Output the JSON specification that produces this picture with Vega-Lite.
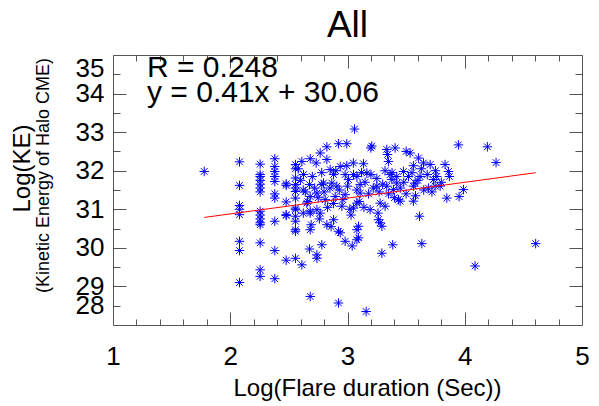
{
"$schema": "https://vega.github.io/schema/vega-lite/v6.json",
"width": 469, "height": 270,
"autosize": "none",
"padding": {"left": 113, "top": 55, "right": 17, "bottom": 81},
"config": {
  "view": {"stroke": "#555", "strokeWidth": 1},
  "font": "Liberation Sans",
  "axis": {"domain": false, "grid": false, "labelFont": "Liberation Sans", "titleFont": "Liberation Sans", "titleFontWeight": "normal", "tickColor": "#555", "labelColor": "black", "titleColor": "black", "labelOverlap": false}
},
"title": {"text": "All", "fontSize": 37, "fontWeight": "normal", "font": "Liberation Sans", "anchor": "middle", "color": "black", "offset": 8},
"datasets": {
 "pts": [
  {"x":1.778,"y":31.98},
  {"x":2.079,"y":32.23},{"x":2.079,"y":31.62},{"x":2.079,"y":31.10},{"x":2.079,"y":31.00},{"x":2.079,"y":30.86},{"x":2.079,"y":30.17},{"x":2.079,"y":29.93},{"x":2.079,"y":29.10},
  {"x":2.255,"y":32.17},{"x":2.255,"y":31.90},{"x":2.255,"y":31.85},{"x":2.255,"y":31.75},{"x":2.255,"y":31.65},{"x":2.255,"y":31.55},{"x":2.255,"y":31.45},{"x":2.255,"y":30.95},{"x":2.255,"y":30.85},{"x":2.255,"y":30.75},{"x":2.255,"y":30.65},{"x":2.255,"y":30.60},{"x":2.255,"y":30.13},{"x":2.255,"y":29.43},{"x":2.255,"y":29.26},
  {"x":2.380,"y":32.31},{"x":2.380,"y":32.11},{"x":2.380,"y":31.98},{"x":2.380,"y":31.85},{"x":2.380,"y":31.72},{"x":2.380,"y":31.40},{"x":2.380,"y":31.29},{"x":2.380,"y":30.69},{"x":2.380,"y":29.93},{"x":2.380,"y":29.20},
  {"x":2.477,"y":31.66},{"x":2.477,"y":31.62},{"x":2.477,"y":31.19},{"x":2.477,"y":30.86},{"x":2.477,"y":30.84},{"x":2.477,"y":29.68},
  {"x":2.556,"y":32.16},{"x":2.556,"y":31.81},{"x":2.556,"y":31.55},{"x":2.556,"y":31.29},{"x":2.556,"y":30.99},{"x":2.556,"y":30.82},{"x":2.556,"y":30.69},{"x":2.556,"y":30.43},{"x":2.556,"y":29.73},{"x":2.556,"y":32.05},{"x":2.556,"y":31.64},{"x":2.556,"y":31.46},{"x":2.556,"y":31.03},{"x":2.556,"y":30.47},
  {"x":2.611,"y":32.24},{"x":2.682,"y":32.31},{"x":2.625,"y":31.90},{"x":2.676,"y":31.64},{"x":2.682,"y":31.33},{"x":2.653,"y":31.16},{"x":2.682,"y":30.95},{"x":2.682,"y":30.90},{"x":2.682,"y":30.47},{"x":2.676,"y":29.97},{"x":2.611,"y":29.56},{"x":2.682,"y":28.74},{"x":2.623,"y":31.50},{"x":2.623,"y":30.90},
  {"x":2.733,"y":32.20},{"x":2.767,"y":32.46},{"x":2.824,"y":32.62},{"x":2.781,"y":31.64},{"x":2.739,"y":31.42},{"x":2.795,"y":31.68},{"x":2.739,"y":30.99},{"x":2.767,"y":30.90},{"x":2.824,"y":30.60},{"x":2.739,"y":29.82},{"x":2.739,"y":29.73},{"x":2.781,"y":30.08},{"x":2.824,"y":32.29},{"x":2.852,"y":32.03},{"x":2.866,"y":31.68},{"x":2.810,"y":31.25},
  {"x":2.924,"y":32.70},{"x":2.994,"y":32.70},{"x":2.881,"y":31.90},{"x":2.938,"y":32.11},{"x":2.994,"y":32.13},{"x":2.909,"y":31.60},{"x":2.895,"y":31.33},{"x":2.952,"y":31.08},{"x":2.980,"y":31.38},{"x":3.009,"y":31.77},{"x":2.881,"y":30.73},{"x":2.923,"y":30.43},{"x":2.938,"y":30.39},{"x":2.980,"y":30.17},{"x":2.923,"y":28.57},
  {"x":3.060,"y":33.08},{"x":3.051,"y":31.90},{"x":3.080,"y":31.85},{"x":3.108,"y":31.64},{"x":3.136,"y":32.18},{"x":3.051,"y":31.03},{"x":3.080,"y":31.16},{"x":3.094,"y":30.56},{"x":3.080,"y":30.47},{"x":3.094,"y":30.26},{"x":3.080,"y":30.21},{"x":3.108,"y":31.42},{"x":3.165,"y":31.94},{"x":3.159,"y":28.35},
  {"x":3.207,"y":32.64},{"x":3.199,"y":32.59},{"x":3.193,"y":30.99},{"x":3.250,"y":31.60},{"x":3.278,"y":31.16},{"x":3.264,"y":30.73},{"x":3.278,"y":30.65},{"x":3.293,"y":29.86},{"x":3.293,"y":30.56},{"x":3.321,"y":31.08},
  {"x":3.335,"y":32.55},{"x":3.341,"y":32.42},{"x":3.349,"y":32.24},{"x":3.364,"y":31.90},{"x":3.378,"y":31.77},{"x":3.392,"y":31.51},{"x":3.406,"y":32.59},{"x":3.435,"y":31.25},{"x":3.449,"y":31.21},{"x":3.386,"y":30.08},{"x":3.335,"y":31.60},{"x":3.420,"y":31.68},
  {"x":3.500,"y":32.50},{"x":3.534,"y":32.46},{"x":3.477,"y":31.98},{"x":3.520,"y":31.85},{"x":3.562,"y":32.13},{"x":3.577,"y":31.68},{"x":3.605,"y":32.33},{"x":3.562,"y":31.21},{"x":3.614,"y":30.82},{"x":3.634,"y":30.11},{"x":3.562,"y":31.60},{"x":3.619,"y":31.85},
  {"x":3.648,"y":32.20},{"x":3.705,"y":32.16},{"x":3.690,"y":31.55},{"x":3.733,"y":31.77},{"x":3.761,"y":31.85},{"x":3.832,"y":32.16},{"x":3.861,"y":31.98},{"x":3.869,"y":31.85},{"x":3.847,"y":31.29},{"x":3.790,"y":31.60},{"x":3.747,"y":31.60},
  {"x":3.946,"y":32.67},{"x":3.989,"y":31.51},{"x":3.952,"y":31.33},{"x":4.088,"y":29.53},{"x":4.193,"y":32.62},{"x":4.267,"y":32.21},{"x":4.605,"y":30.11},
  {"x":2.58,"y":32.05},{"x":2.60,"y":31.75},{"x":2.64,"y":31.45},{"x":2.66,"y":31.20},{"x":2.70,"y":31.85},{"x":2.72,"y":31.55},{"x":2.75,"y":31.30},{"x":2.78,"y":31.95},{"x":2.80,"y":31.45},{"x":2.83,"y":31.05},{"x":2.85,"y":31.55},{"x":2.88,"y":31.15},{"x":2.90,"y":32.00},{"x":2.93,"y":31.50},{"x":2.96,"y":31.25},{"x":2.98,"y":31.90},{"x":3.00,"y":31.60},{"x":3.02,"y":31.00},{"x":3.05,"y":32.20},{"x":3.08,"y":31.50},{"x":3.10,"y":31.20},{"x":3.12,"y":31.95},{"x":3.15,"y":31.70},{"x":3.18,"y":31.40},{"x":3.20,"y":31.90},{"x":3.22,"y":31.55},{"x":3.25,"y":31.80},{"x":3.27,"y":31.45},{"x":3.30,"y":31.65},{"x":3.32,"y":32.00},{"x":3.35,"y":31.40},{"x":3.38,"y":31.95},{"x":3.40,"y":31.30},{"x":3.42,"y":31.85},{"x":3.45,"y":31.55},{"x":3.48,"y":31.70},{"x":3.50,"y":31.40},{"x":3.55,"y":31.95},{"x":3.58,"y":31.35},{"x":3.60,"y":31.75},{"x":3.65,"y":31.50},{"x":3.68,"y":31.90},{"x":3.72,"y":31.45},{"x":3.75,"y":32.00},{"x":3.80,"y":31.70},{"x":3.63,"y":32.05},{"x":2.69,"y":30.60},{"x":2.76,"y":30.75},{"x":2.86,"y":30.55},{"x":3.03,"y":30.85},{"x":3.14,"y":31.05},{"x":3.26,"y":30.90},{"x":3.04,"y":30.05}
 ],
 "fit": [{"x":1.778,"y":30.789},{"x":4.605,"y":31.948}],
 "ann": [{"x":1.29,"y":34.43,"t":"R = 0.248"},{"x":1.29,"y":33.78,"t":"y = 0.41x + 30.06"}]
},
"layer": [
 {
  "data": {"name": "pts"},
  "mark": {"type": "point", "shape": "M0,-1L0,1M-1,0L1,0M-0.7,-0.7L0.7,0.7M-0.7,0.7L0.7,-0.7", "size": 90, "filled": false, "stroke": "#0000ff", "strokeWidth": 1, "opacity": 1},
  "encoding": {
   "x": {"field": "x", "type": "quantitative", "scale": {"domain": [1, 5], "nice": false, "zero": false},
         "axis": {"orient": "bottom", "values": [1,2,3,4,5], "ticks": false, "labelFontSize": 26, "labelPadding": 18, "labelFlush": false, "title": "Log(Flare duration (Sec))", "titleFontSize": 24, "titleX": 254, "titleY": 70, "titleBaseline": "alphabetic", "titleAnchor": null}},
   "y": {"field": "y", "type": "quantitative", "scale": {"domain": [28, 35], "nice": false, "zero": false},
         "axis": {"orient": "left", "values": [28.5,29,30,31,32,33,34,35], "labelExpr": "datum.value == 28.5 ? '28' : format(datum.value, 'd')", "ticks": false, "labelFontSize": 26, "labelPadding": 9, "labelFlush": true, "title": "Log(KE)", "titleFontSize": 24, "titleX": -84, "titleY": 113, "titleAngle": -90, "titleBaseline": "alphabetic", "titleAlign": "center"}}
  }
 },
 {
  "data": {"name": "fit"},
  "mark": {"type": "line", "color": "#ff0000", "strokeWidth": 1},
  "encoding": {
   "x": {"field": "x", "type": "quantitative", "scale": {"domain": [1, 5], "nice": false, "zero": false}, "axis": {"orient": "top", "values": [2,3,4], "labels": false, "tickSize": -13, "title": null}},
   "y": {"field": "y", "type": "quantitative", "scale": {"domain": [28, 35], "nice": false, "zero": false}, "axis": {"orient": "right", "values": [29,30,31,32,33,34], "labels": false, "tickSize": -13, "title": null}}
  }
 },
 {
  "data": {"name": "fit"},
  "mark": {"type": "point", "opacity": 0},
  "encoding": {
   "x": {"field": "x", "type": "quantitative", "scale": {"domain": [1, 5], "nice": false, "zero": false}, "axis": {"orient": "bottom", "values": [2,3,4], "labels": false, "tickSize": -13, "title": null}},
   "y": {"field": "y", "type": "quantitative", "scale": {"domain": [28, 35], "nice": false, "zero": false}, "axis": {"orient": "left", "values": [29,30,31,32,33,34], "labels": false, "tickSize": -13, "title": null}}
  }
 },
 {
  "data": {"name": "fit"},
  "mark": {"type": "point", "opacity": 0},
  "encoding": {
   "x": {"field": "x", "type": "quantitative", "scale": {"domain": [1, 5], "nice": false, "zero": false}, "axis": {"orient": "bottom", "values": [1.2,1.4,1.6,1.8,2.2,2.4,2.6,2.8,3.2,3.4,3.6,3.8,4.2,4.4,4.6,4.8], "labels": false, "tickSize": -6, "title": null}},
   "y": {"field": "y", "type": "quantitative", "scale": {"domain": [28, 35], "nice": false, "zero": false}, "axis": {"orient": "left", "values": [28.5,29.5,30.5,31.5,32.5,33.5,34.5], "labels": false, "tickSize": -7, "title": "(Kinetic Energy of Halo CME)", "titleFontSize": 18, "titleX": -65, "titleY": 120, "titleAngle": -90, "titleBaseline": "alphabetic", "titleAlign": "center"}}
  }
 },
 {
  "data": {"name": "fit"},
  "mark": {"type": "point", "opacity": 0},
  "encoding": {
   "x": {"field": "x", "type": "quantitative", "scale": {"domain": [1, 5], "nice": false, "zero": false}, "axis": {"orient": "top", "values": [1.2,1.4,1.6,1.8,2.2,2.4,2.6,2.8,3.2,3.4,3.6,3.8,4.2,4.4,4.6,4.8], "labels": false, "tickSize": -6, "title": null}},
   "y": {"field": "y", "type": "quantitative", "scale": {"domain": [28, 35], "nice": false, "zero": false}, "axis": {"orient": "right", "values": [28.5,29.5,30.5,31.5,32.5,33.5,34.5], "labels": false, "tickSize": -7, "title": null}}
  }
 },
 {
  "data": {"name": "ann"},
  "mark": {"type": "text", "align": "left", "baseline": "alphabetic", "fontSize": 30, "font": "Liberation Sans", "color": "black"},
  "encoding": {
   "x": {"field": "x", "type": "quantitative", "scale": {"domain": [1, 5], "nice": false, "zero": false}, "axis": null},
   "y": {"field": "y", "type": "quantitative", "scale": {"domain": [28, 35], "nice": false, "zero": false}, "axis": null},
   "text": {"field": "t"}
  }
 }
],
"resolve": {"axis": {"x": "independent", "y": "independent"}}
}
